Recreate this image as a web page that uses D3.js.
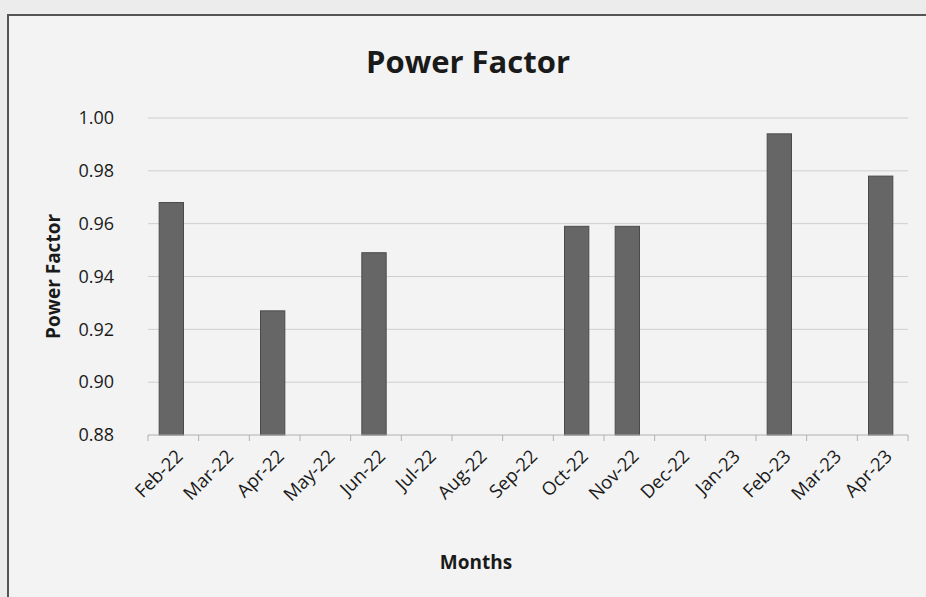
<!DOCTYPE html>
<html>
<head>
<meta charset="utf-8">
<script src="https://cdn.jsdelivr.net/npm/d3@7"></script>
<style>
  body { margin: 0; background: #ececec; }
  svg { display: block; }
  text { font-family: "Open Sans", "Liberation Sans", sans-serif; fill: #1a1a1a; }
</style>
</head>
<body>
<svg width="926" height="597"></svg>
<script>
(function () {
    'use strict';

    var months = ['Feb-22', 'Mar-22', 'Apr-22', 'May-22', 'Jun-22', 'Jul-22', 'Aug-22', 'Sep-22',
        'Oct-22', 'Nov-22', 'Dec-22', 'Jan-23', 'Feb-23', 'Mar-23', 'Apr-23'];
    var powerFactor = [0.968, null, 0.927, null, 0.949, null, null, null,
        0.959, 0.959, null, null, 0.994, null, 0.978];
    var yTicks = [0.88, 0.90, 0.92, 0.94, 0.96, 0.98, 1.00];

    var svg = d3.select('svg');
    var width = +svg.attr('width');
    var height = +svg.attr('height');

    // chart frame
    svg.append('rect')
        .attr('x', 8).attr('y', 15)
        .attr('width', width).attr('height', height)
        .attr('fill', '#f3f3f3')
        .attr('stroke', '#555')
        .attr('stroke-width', 2);

    var margin = {left: 148, right: 18, top: 118, bottom: 162};
    var plotW = width - margin.left - margin.right;
    var plotH = height - margin.top - margin.bottom;

    var x = d3.scaleBand().domain(months).range([0, plotW]).paddingInner(0.52).paddingOuter(0.26);
    var y = d3.scaleLinear().domain([0.88, 1.00]).range([plotH, 0]);

    var g = svg.append('g')
        .attr('transform', 'translate(' + margin.left + ',' + margin.top + ')');

    // gridlines
    g.selectAll('.grid').data(yTicks.slice(1)).enter()
        .append('line')
        .attr('x1', 0).attr('x2', plotW)
        .attr('y1', function (d) { return y(d); })
        .attr('y2', function (d) { return y(d); })
        .attr('stroke', '#cfcfcf')
        .attr('stroke-width', 1);

    // bars
    g.selectAll('.bar').data(months.map(function (m, i) { return {m: m, v: powerFactor[i]}; })
            .filter(function (d) { return d.v !== null; }))
        .enter().append('rect')
        .attr('x', function (d) { return x(d.m) - 2; })
        .attr('y', function (d) { return y(d.v); })
        .attr('width', x.bandwidth())
        .attr('height', function (d) { return plotH - y(d.v); })
        .attr('fill', '#666666')
        .attr('stroke', '#4a4a4a')
        .attr('stroke-width', 1);

    // y axis labels
    var yAxis = g.append('g')
        .call(d3.axisLeft(y).tickValues(yTicks).tickFormat(d3.format('.2f')).tickSize(0).tickPadding(34));
    yAxis.select('.domain').remove();
    yAxis.selectAll('text').attr('font-size', 18).attr('fill', '#1a1a1a');

    // x axis
    var xAxis = g.append('g').attr('transform', 'translate(0,' + plotH + ')');
    xAxis.append('line')
        .attr('x1', 0).attr('x2', plotW)
        .attr('stroke', '#b0b0b0');
    xAxis.selectAll('.tick').data(d3.range(months.length + 1)).enter()
        .append('line')
        .attr('x1', function (i) { return i * plotW / months.length; })
        .attr('x2', function (i) { return i * plotW / months.length; })
        .attr('y1', 0).attr('y2', 6)
        .attr('stroke', '#b0b0b0');
    xAxis.selectAll('.lbl').data(months).enter()
        .append('text')
        .attr('transform', function (d) {
            return 'translate(' + (x(d) + x.bandwidth() / 2 + 6) + ',18) rotate(-45)';
        })
        .attr('text-anchor', 'end')
        .attr('dy', '0.35em')
        .attr('font-size', 18.5)
        .text(function (d) { return d; });

    // titles
    svg.append('text')
        .attr('x', 468).attr('y', 73)
        .attr('text-anchor', 'middle')
        .attr('font-size', 31)
        .attr('font-weight', 'bold')
        .text('Power Factor');

    svg.append('text')
        .attr('transform', 'translate(60,' + (margin.top + plotH / 2) + ') rotate(-90)')
        .attr('text-anchor', 'middle')
        .attr('font-size', 19)
        .attr('font-weight', 'bold')
        .text('Power Factor');

    svg.append('text')
        .attr('x', 476).attr('y', 569)
        .attr('text-anchor', 'middle')
        .attr('font-size', 19)
        .attr('font-weight', 'bold')
        .text('Months');
}());
</script>
</body>
</html>
